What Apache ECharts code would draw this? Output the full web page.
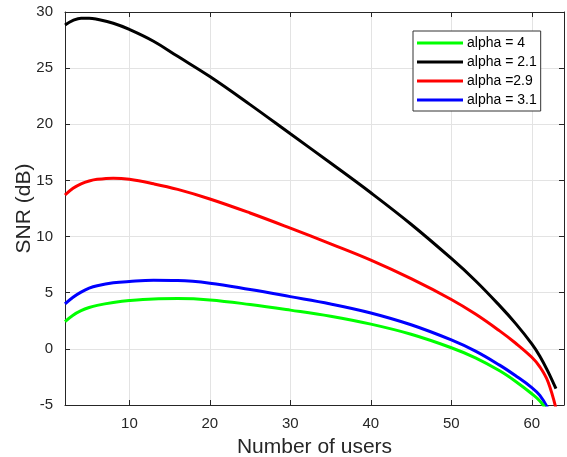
<!DOCTYPE html>
<html>
<head>
<meta charset="utf-8">
<script src="https://cdn.jsdelivr.net/npm/echarts@6/dist/echarts.min.js"></script>
<style>
html,body{margin:0;padding:0;background:#fff;}
#chart{width:567px;height:457px;}
</style>
</head>
<body>
<div id="chart"></div>
<script>
const users = [2, 3, 4, 5, 6, 8, 10, 13, 16, 20, 25, 30, 35, 40, 45, 50, 53, 56, 58, 60, 61, 62, 63];
const snrAlpha4  = [2.43, 3.0, 3.4, 3.68, 3.87, 4.12, 4.3, 4.45, 4.48, 4.36, 3.95, 3.45, 2.9, 2.2, 1.3, 0.1, -0.8, -1.95, -2.9, -4.0, -4.65, -5.6, null];
const snrAlpha21 = [28.85, 29.25, 29.45, 29.45, 29.35, 29.0, 28.45, 27.4, 26.05, 24.25, 21.75, 19.15, 16.55, 13.9, 11.1, 8.05, 6.07, 3.85, 2.25, 0.45, -0.65, -2.0, -3.55];
const snrAlpha29 = [13.7, 14.3, 14.7, 14.95, 15.1, 15.2, 15.1, 14.7, 14.2, 13.35, 12.1, 10.75, 9.35, 7.9, 6.25, 4.4, 3.1, 1.6, 0.5, -0.75, -1.6, -2.9, -5.3];
const snrAlpha31 = [4.0, 4.6, 5.05, 5.4, 5.62, 5.88, 6.0, 6.1, 6.08, 5.85, 5.28, 4.65, 4.0, 3.2, 2.15, 0.8, -0.2, -1.45, -2.4, -3.45, -4.15, -5.3, null];
const seriesNames = ['alpha = 4', 'alpha = 2.1', 'alpha =2.9', 'alpha = 3.1'];
const seriesColors = ['#00ff00', '#000000', '#ff0000', '#0000ff'];
const seriesValues = [snrAlpha4, snrAlpha21, snrAlpha29, snrAlpha31];
const xLabel = 'Number of users';
const yLabel = 'SNR (dB)';

function pairs(vals) {
  const out = [];
  users.forEach((x, i) => { if (vals[i] !== null) out.push([x, vals[i]]); });
  return out;
}

const axisColor = '#262626';
const gridColor = '#e3e3e3';
const font = 'Arial, "Liberation Sans", Helvetica, sans-serif';

const chart = echarts.init(document.getElementById('chart'));
chart.setOption({
  animation: false,
  backgroundColor: '#fff',
  grid: { left: 65, right: 3, top: 12, bottom: 52, containLabel: false, outerBoundsMode: 'none' },
  legend: {
    data: seriesNames,
    orient: 'vertical',
    left: 413, top: 31,
    icon: 'rect',
    itemWidth: 46, itemHeight: 3,
    itemGap: 5,
    padding: [5, 4, 4, 4],
    backgroundColor: '#fff',
    borderColor: '#333',
    borderWidth: 1,
    borderRadius: 0,
    textStyle: { fontFamily: font, fontSize: 14, color: '#000', padding: [0, 0, 0, -1] }
  },
  xAxis: [
    {
      type: 'value', min: 2, max: 64, splitNumber: 6,
      name: xLabel, nameLocation: 'middle', nameGap: 32, nameMoveOverlap: false,
      nameTextStyle: { fontFamily: font, fontSize: 21, color: axisColor },
      axisLine: { show: true, onZero: false, lineStyle: { color: axisColor, width: 1 } },
      axisTick: { show: true, inside: true, length: 5, lineStyle: { color: axisColor } },
      axisLabel: { fontFamily: font, fontSize: 15, color: axisColor, margin: 11, showMinLabel: false, showMaxLabel: false },
      splitLine: { show: true, lineStyle: { color: gridColor, width: 1 } }
    },
    {
      type: 'value', min: 2, max: 64, splitNumber: 6, position: 'top',
      axisLine: { show: true, onZero: false, lineStyle: { color: axisColor, width: 1 } },
      axisTick: { show: true, inside: true, length: 5, lineStyle: { color: axisColor } },
      axisLabel: { show: false },
      splitLine: { show: false }
    }
  ],
  yAxis: [
    {
      type: 'value', min: -5, max: 30, interval: 5,
      name: yLabel, nameLocation: 'middle', nameGap: 30, nameRotate: 90, nameMoveOverlap: false,
      nameTextStyle: { fontFamily: font, fontSize: 21, color: axisColor },
      axisLine: { show: true, onZero: false, lineStyle: { color: axisColor, width: 1 } },
      axisTick: { show: true, inside: true, length: 5, lineStyle: { color: axisColor } },
      axisLabel: { fontFamily: font, fontSize: 15, color: axisColor, margin: 12 },
      splitLine: { show: true, lineStyle: { color: gridColor, width: 1 } }
    },
    {
      type: 'value', min: -5, max: 30, interval: 5, position: 'right',
      axisLine: { show: true, onZero: false, lineStyle: { color: axisColor, width: 1 } },
      axisTick: { show: true, inside: true, length: 5, lineStyle: { color: axisColor } },
      axisLabel: { show: false },
      splitLine: { show: false }
    }
  ],
  series: seriesNames.map((name, i) => ({
    name: name,
    type: 'line',
    xAxisIndex: 0, yAxisIndex: 0,
    data: pairs(seriesValues[i]),
    smooth: 0.4,
    showSymbol: false,
    symbol: 'none',
    clip: true,
    color: seriesColors[i],
    lineStyle: { color: seriesColors[i], width: 3 },
    z: 10 - i
  }))
});
</script>
</body>
</html>
